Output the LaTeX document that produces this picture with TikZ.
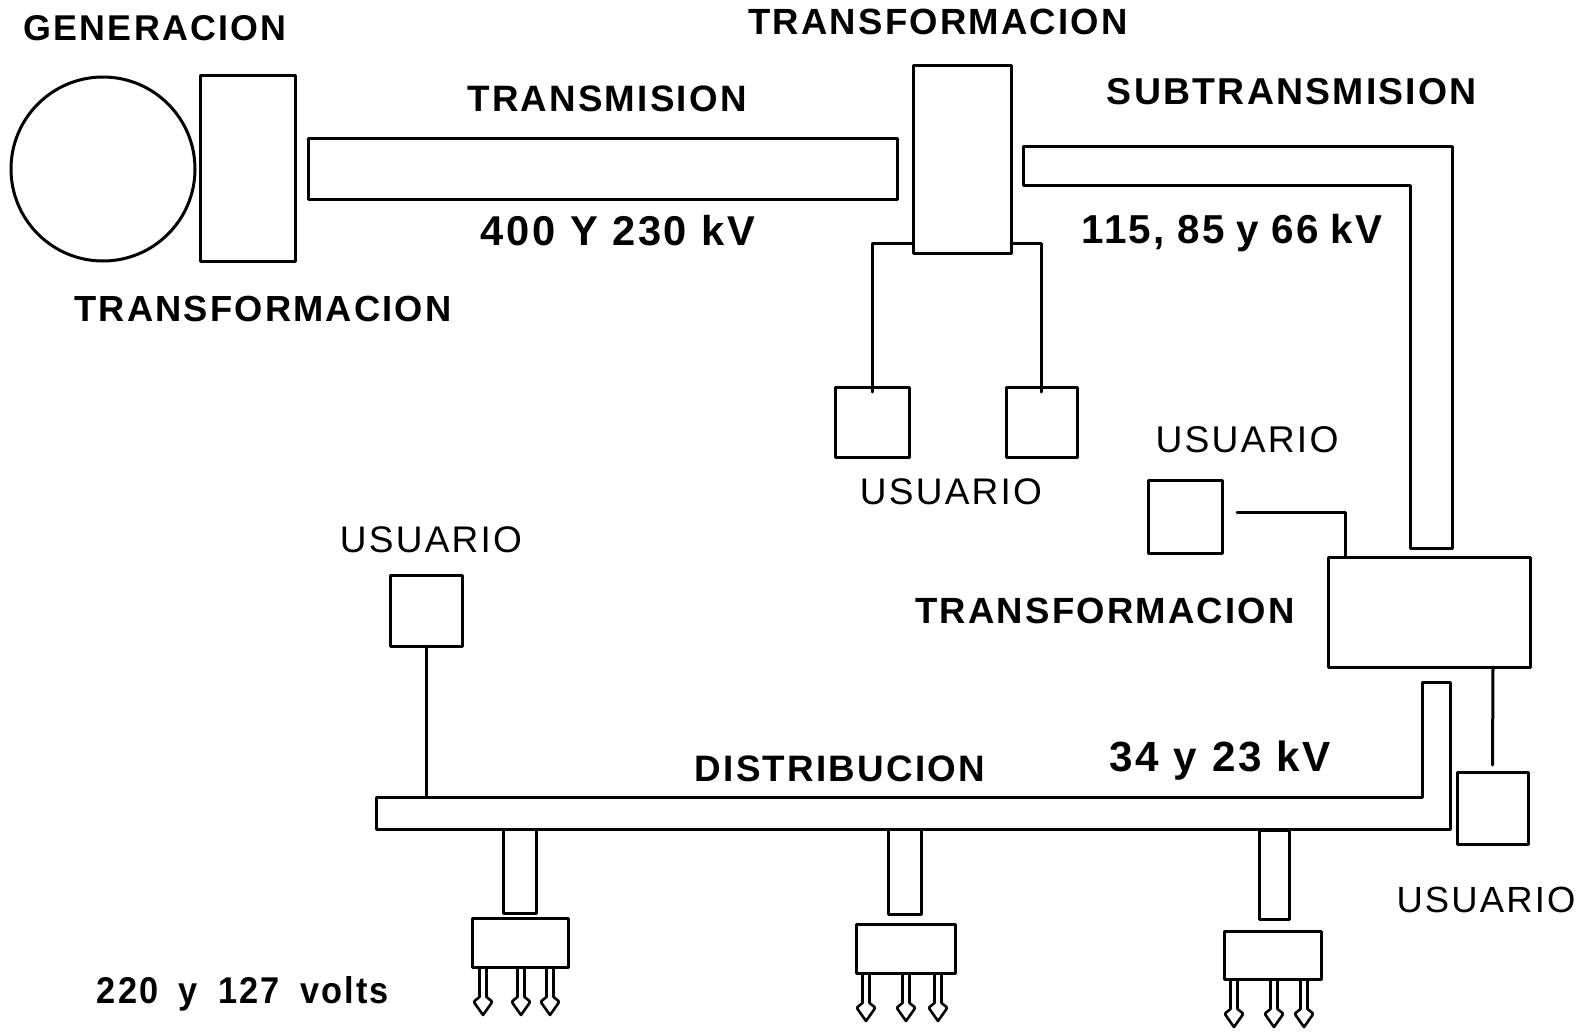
\documentclass[tikz,border=0pt]{standalone}
\usepackage{fontspec}
\usepackage{graphicx}
\newfontfamily\lblfont[LetterSpace=6]{Liberation Sans}
\usetikzlibrary{calc}
\tikzset{
  ln/.style={line width=3pt, line join=round, line cap=round},
  box/.style={draw, ln, inner sep=0pt, outer sep=0pt},
  thinln/.style={line width=2.6pt, line join=round},
  lbl/.style={anchor=base, inner sep=0pt},
}
\newcommand{\bl}[2]{\resizebox{#1pt}{!}{\lblfont\bfseries #2}}
\newcommand{\rl}[2]{\resizebox{#1pt}{!}{\lblfont #2}}
\begin{document}
\begin{tikzpicture}[x=1pt,y=-1pt]
\useasboundingbox (0,0) rectangle (1583,1033);
% generation
\node[box, circle, minimum size=184pt] (gen) at (103,169) {};
\node[box, minimum width=95pt, minimum height=185pt] (gtr) at (247.5,168.5) {};
\node[box, minimum width=589pt, minimum height=61pt] (tx) at (602.5,168.5) {};
% top transformation
\node[box, minimum width=98pt, minimum height=187pt] (tt) at (962,159.5) {};
\node[box, minimum width=74pt, minimum height=70pt] (u1) at (872,422) {};
\node[box, minimum width=71pt, minimum height=70pt] (u2) at (1041.5,422) {};
\draw[ln] ([yshift=10pt]tt.south west) -| ([yshift=-5pt]u1.north);
\draw[ln] ([yshift=10pt]tt.south east) -| ([yshift=-5pt]u2.north);
% subtransmission
\draw[ln] (1023,146) -- (1452,146) -- (1452,548) -- (1410,548) -- (1410,185) -- (1023,185) -- cycle;
% lower transformation
\node[box, minimum width=202pt, minimum height=110pt] (lt) at (1429,612) {};
\node[box, minimum width=74pt, minimum height=73pt] (u3) at (1185,516.5) {};
\coordinate (lt3) at ([xshift=17pt]lt.north west);
\draw[ln] ([xshift=15pt,yshift=4pt]u3.east) -| (lt3);
\node[box, minimum width=71pt, minimum height=72pt] (u4) at (1492.5,808) {};
\draw[ln] ([xshift=64pt]lt.south) -- ([yshift=7pt]u4.north);
% distribution
\draw[ln] (376,797) -- (1422,797) -- (1422,682) -- (1450,682) -- (1450,829) -- (376,829) -- cycle;
\coordinate (dtop) at (376,797);
\node[box, minimum width=72pt, minimum height=71pt] (u5) at (426,610.5) {};
\draw[ln] (u5.south) -- (u5.south |- dtop);
% feeders
\node[box, minimum width=33pt, minimum height=84pt] (s1) at (519.5,871) {};
\node[box, minimum width=96pt, minimum height=49pt] (b1) at (520,942.5) {};
\node[box, minimum width=33pt, minimum height=85pt] (s2) at (904.5,871.5) {};
\node[box, minimum width=99pt, minimum height=49pt] (b2) at (905.5,948.5) {};
\node[box, minimum width=30pt, minimum height=89pt] (s3) at (1274,874.5) {};
\node[box, minimum width=97pt, minimum height=48pt] (b3) at (1272.5,955) {};
\foreach \b/\dxs in {b1/{-37,1,30}, b2/{-39.5,0.5,32.5}, b3/{-38.5,1.5,31.5}}{
  \foreach \dx in \dxs {
    \draw[thinln] ($(\b.south)+(\dx-3.5,0)$) -- ++(0,30) -- ++(-5,4) -- ++(0,2) -- ++(8.5,12) -- ++(8.5,-12) -- ++(0,-2) -- ++(-5,-4) -- ++(0,-30);
  }
}
% labels
\node[lbl] (lgen) at (155,41) {\bl{262}{GENERACION}};
\node[lbl] (ltt) at (938,35) {\bl{379}{TRANSFORMACION}};
\node[lbl] (ltx) at (607,112) {\bl{279}{TRANSMISION}};
\node[lbl] (lsub) at (1292,104) {\bl{370}{SUBTRANSMISION}};
\node[lbl] (lv1) at (618,245) {\bl{274}{400\hspace{0.35em}Y\hspace{0.35em}230\hspace{0.35em}kV}};
\node[lbl] (lv2) at (1232,243) {\bl{301}{115,\hspace{0.3em}85\hspace{0.3em}y\hspace{0.3em}66\hspace{0.3em}kV}};
\node[lbl] (lgtr) at (263,321) {\bl{377}{TRANSFORMACION}};
\node[lbl] (lu1) at (951,504) {\rl{182}{USUARIO}};
\node[lbl] (lu3) at (1247,452) {\rl{183}{USUARIO}};
\node[lbl] (lu5) at (431,552) {\rl{182}{USUARIO}};
\node[lbl] (llt) at (1105,623) {\bl{379}{TRANSFORMACION}};
\node[lbl] (ldist) at (840,781) {\bl{290}{DISTRIBUCION}};
\node[lbl] (lv3) at (1220,771) {\bl{221}{34\hspace{0.35em}y\hspace{0.35em}23\hspace{0.35em}kV}};
\node[lbl] (lu4) at (1486,912) {\rl{179}{USUARIO}};
\node[lbl] (lv4) at (243,1003) {\resizebox{292pt}{27pt}{\lblfont\bfseries 220\hspace{0.6em}y\hspace{0.6em}127\hspace{0.6em}volts}};
\end{tikzpicture}
\end{document}
